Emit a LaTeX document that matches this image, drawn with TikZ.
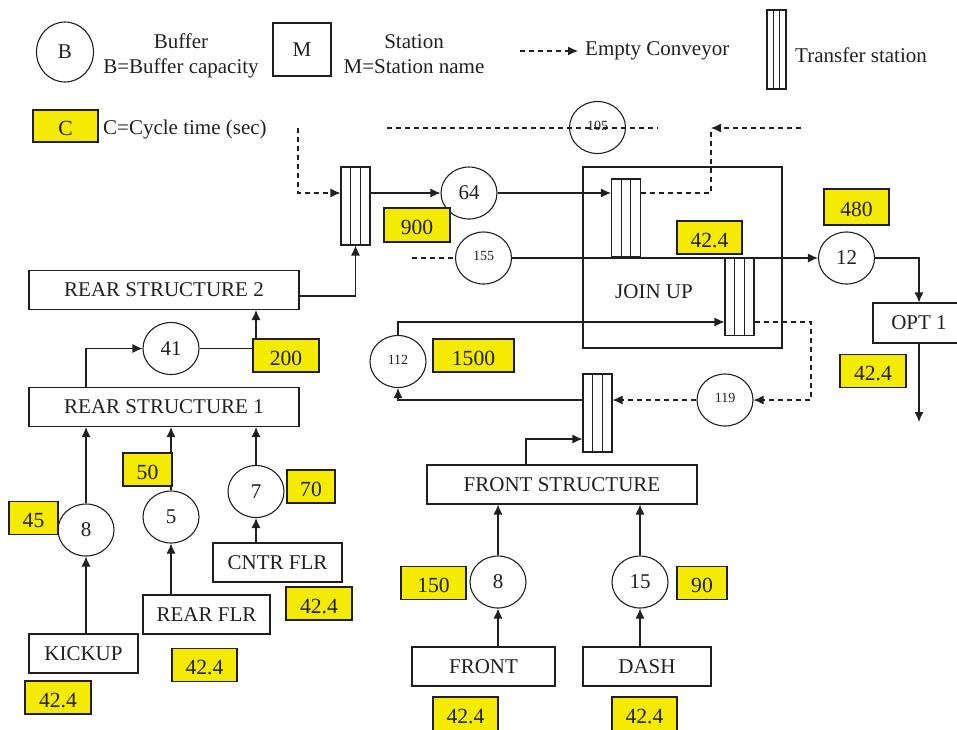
\documentclass[tikz,border=0pt]{standalone}
\usepackage{fontspec}
\setmainfont{Liberation Serif}
\usetikzlibrary{arrows.meta,positioning,calc,shapes.geometric}
\definecolor{Ink}{HTML}{231F20}
\definecolor{Cycle}{HTML}{F5EB00}

\begin{document}
\begin{tikzpicture}[x=0.5pt,y=-0.5pt,>={Latex[length=5pt,width=4.5pt]},color=Ink,line width=0.55pt,
  every node/.style={font=\fontsize{10.5}{12.6}\selectfont},
  small/.style={font=\fontsize{7}{8}\selectfont},
  station/.style={draw,rectangle,minimum height=19.5pt,inner sep=0pt},
  buffer/.style={draw,ellipse,minimum width=28pt,minimum height=26pt,inner sep=0pt},
  transfer/.style={draw,rectangle,minimum width=14.5pt,minimum height=39pt,inner sep=0pt,
    path picture={
      \draw ($(path picture bounding box.north west)!1/3!(path picture bounding box.north east)$) -- ($(path picture bounding box.south west)!1/3!(path picture bounding box.south east)$)
            ($(path picture bounding box.north west)!2/3!(path picture bounding box.north east)$) -- ($(path picture bounding box.south west)!2/3!(path picture bounding box.south east)$);}},
  cyctime/.style={draw,fill=Cycle,minimum height=16.5pt,inner sep=0pt,text height=9.5pt,text depth=0pt,
    font=\fontsize{10.8}{12.6}\selectfont},
  flow/.style={->},
  emptyline/.style={dash pattern=on 2.5pt off 2pt},
  emptyconv/.style={->,dash pattern=on 2.5pt off 2pt}]
\useasboundingbox (0,0) rectangle (957,729);
\clip (0,0) rectangle (957,729);

\node[buffer,minimum width=28.5pt,minimum height=30pt] (lgbuf) at (65,52) {B};
\node[align=center] (lgbuftxt) at (181,55.5) {Buffer\\B=Buffer capacity};
\node[station,minimum width=29pt,minimum height=26.5pt] (lgsta) at (302,49.5) {M};
\node[align=center] (lgstatxt) at (414,54) {Station\\M=Station name};
\coordinate (lgdash) at (520,51);
\node[anchor=west] (lgempty) at (578,51) {Empty Conveyor};
\node[transfer,minimum width=9.5pt,minimum height=39.5pt] (lgtr) at (776.5,49.5) {};
\node[anchor=west] (lgtrtxt) at (788,55) {Transfer station};
\node[cyctime,minimum width=32.5pt,minimum height=16pt] (lgcyc) at (65.5,126) {C};
\node[anchor=west] (lgcyctxt) at (96,129) {C=Cycle time (sec)};

\node[transfer] (tr1) at (355.5,206) {};
\node[transfer] (tr2) at (626,218) {};
\node[transfer] (tr3) at (739.5,296.5) {};
\node[transfer] (tr4) at (597.5,413) {};
\node[station,minimum width=99.5pt,minimum height=90.5pt] (joinup) at (682.5,257.5) {};
\node (joinuptxt) at (654,292) {JOIN UP};

\node[buffer,small] (buf105) at (597.5,127.5) {\raisebox{2pt}{105}};
\node[buffer] (buf64) at (469,193) {64};
\node[buffer,small] (buf155) at (483.5,258) {\raisebox{2pt}{155}};
\node[buffer] (buf12) at (846.5,258) {12};
\node[buffer] (buf41) at (171,348.5) {41};
\node[buffer,small] (buf112) at (398,361.5) {\raisebox{2pt}{112}};
\node[buffer,small] (buf119) at (725,400) {\raisebox{2pt}{119}};
\node[buffer] (buf7) at (256,491.5) {7};
\node[buffer] (buf5) at (171,517) {5};
\node[buffer] (buf8r) at (86,530) {8};
\node[buffer] (buf8f) at (498,582) {8};
\node[buffer] (buf15) at (640,582) {15};

\node[station,minimum width=135pt] (rs2) at (164,290) {REAR STRUCTURE 2};
\node[station,minimum width=135pt] (rs1) at (164,407) {REAR STRUCTURE 1};
\node[station,minimum width=54.5pt] (kickup) at (83.5,653.5) {KICKUP};
\node[station,minimum width=63.5pt] (rearflr) at (206.5,614.5) {REAR FLR};
\node[station,minimum width=64.5pt] (cntrflr) at (277.5,562.5) {CNTR FLR};
\node[station,minimum width=135pt] (frontstr) at (562,484.5) {FRONT STRUCTURE};
\node[station,minimum width=71.5pt] (front) at (483.5,666.5) {FRONT};
\node[station,minimum width=64pt] (dash) at (647,666.5) {DASH};
\node[station,minimum width=46pt,minimum height=20pt] (opt1) at (919,323) {OPT 1};

\coordinate (in1) at (298,128);
\coordinate (topL) at (387,128);
\coordinate (topR) at (658,128);
\coordinate (ret2) at (711,128);
\coordinate (ret2in) at (801,128);
\coordinate (in155) at (412,258);
\coordinate (turn119) at (811,400);
\coordinate (out1) at (919,422);

\draw[emptyconv] (lgdash) -- (lgempty);
\draw[emptyconv] (in1) |- (tr1.west |- buf64);
\draw[flow] (tr1.east |- buf64) -- (buf64);
\draw[flow] (buf64) -- (tr2.west |- buf64);
\draw[emptyline] (tr2.east |- buf64) -| (ret2);
\draw[emptyconv] (ret2in) -- (ret2);
\draw[emptyline] (topL) -- (topR);
\draw[emptyline] (in155) -- (buf155);
\draw[flow] (buf155) -- (buf12);
\draw[flow] (buf12) -| (opt1);
\draw[flow] (opt1) -- (out1);
\draw[flow] (buf112) |- ([yshift=-12.75pt]tr3.west);
\draw[emptyconv] ([yshift=-12.75pt]tr3.east) -| (turn119) -- (buf119);
\draw[emptyconv] (buf119) -- (tr4.east |- buf119);
\draw[flow] (tr4.west |- buf119) -| (buf112);
\draw[flow] ([xshift=-18pt]frontstr.north) |- ([yshift=-13pt]tr4.west);
\draw[flow] (front.north -| buf8f) -- (buf8f);
\draw[flow] (buf8f) -- (frontstr.south -| buf8f);
\draw[flow] (dash.north -| buf15) -- (buf15);
\draw[flow] (buf15) -- (frontstr.south -| buf15);
\draw[flow] (kickup.north -| buf8r) -- (buf8r);
\draw[flow] (buf8r) -- (rs1.south -| buf8r);
\draw[flow] (rearflr.north -| buf5) -- (buf5);
\draw[flow] (buf5) -- (rs1.south -| buf5);
\draw[flow] (cntrflr.north -| buf7) -- (buf7);
\draw[flow] (buf7) -- (rs1.south -| buf7);
\draw[flow] (rs1.north -| buf8r) |- (buf41);
\draw[flow] (buf41) -| (rs2.south -| buf7);
\draw[flow] ([yshift=-3pt]rs2.east) -| (tr1.south);

\node[cyctime,minimum width=33pt,minimum height=17pt] (c900) at (417,225) {900};
\node[cyctime,minimum width=32.5pt] (cjoin) at (709.5,237.5) {42.4};
\node[cyctime,minimum width=32.5pt,minimum height=18pt] (c480) at (856.5,207) {480};
\node[cyctime,minimum width=33pt] (c200) at (286,355.5) {200};
\node[cyctime,minimum width=40.5pt] (c1500) at (473.5,355.5) {1500};
\node[cyctime,minimum width=33pt] (copt) at (873,371) {42.4};
\node[cyctime,minimum width=24.5pt] (c50) at (147.5,469.5) {50};
\node[cyctime,minimum width=24pt] (c70) at (311,486.5) {70};
\node[cyctime,minimum width=24.5pt] (c45) at (33.5,518) {45};
\node[cyctime,minimum width=32.5pt] (c150) at (433.5,583) {150};
\node[cyctime,minimum width=25pt] (c90) at (702,583) {90};
\node[cyctime,minimum width=33pt] (ccntr) at (319,603.5) {42.4};
\node[cyctime,minimum width=32.5pt] (crear) at (204.5,665) {42.4};
\node[cyctime,minimum width=33pt] (ckick) at (58,697.5) {42.4};
\node[cyctime,minimum width=32.5pt,minimum height=17pt] (cfront) at (465.5,714) {42.4};
\node[cyctime,minimum width=32.5pt,minimum height=17pt] (cdash) at (644.5,714) {42.4};
\end{tikzpicture}
\end{document}
